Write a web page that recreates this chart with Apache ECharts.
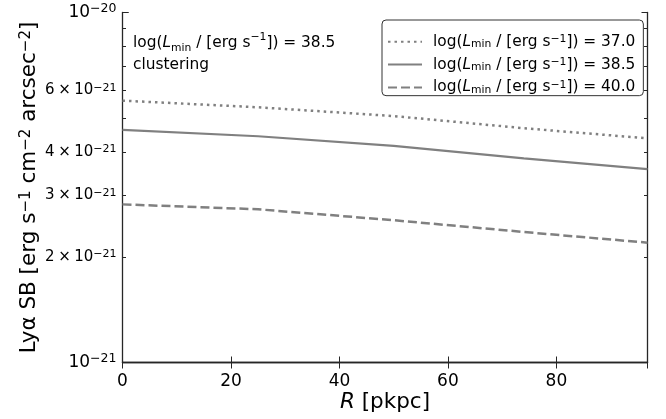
<!DOCTYPE html>
<html>
<head>
<meta charset="utf-8">
<script src="https://cdn.jsdelivr.net/npm/echarts@6/dist/echarts.min.js"></script>
<style>html,body{margin:0;padding:0;background:#fff;}#c{width:666px;height:419px;}#err{position:absolute;left:0;top:300px;font:10px monospace;color:red;}</style>
</head>
<body>
<div id="c"></div>
<div id="err"></div>
<script>
// ---- data ----
const radii = [0, 25, 50, 74, 96.8];                       // R [pkpc]
const sbLmin370 = [5.60e-21, 5.36e-21, 5.06e-21, 4.67e-21, 4.37e-21]; // dotted
const sbLmin385 = [4.62e-21, 4.43e-21, 4.16e-21, 3.83e-21, 3.57e-21]; // solid
const sbLmin400 = [2.83e-21, 2.74e-21, 2.55e-21, 2.36e-21, 2.20e-21]; // dashed
const seriesNames = ['37.0', '38.5', '40.0'];
const xTicks = [0, 20, 40, 60, 80];
const yMajorTicks = [1e-21, 1e-20];
const yMinorTicks = [2e-21, 3e-21, 4e-21, 5e-21, 6e-21, 7e-21, 8e-21, 9e-21];
const yTickLabels = [1e-21, 2e-21, 3e-21, 4e-21, 6e-21];
const annotation = ['38.5', 'clustering'];

const FONT = 'DejaVu Sans';
const GRAY = '#808080';
const AX = '#262626';

function pairs(xs, ys) { return xs.map((x, i) => [x, ys[i]]); }

const richBase = (fs) => ({
  n: {fontSize: fs, fontFamily: FONT, color: '#000'},
  i: {fontSize: fs, fontFamily: FONT, color: '#000', fontStyle: 'italic'},
  b: {fontSize: fs * 0.7, fontFamily: FONT, color: '#000', verticalAlign: 'bottom', padding: [fs*0.35, 0, 0, 0]},
  p: {fontSize: fs * 0.7, fontFamily: FONT, color: '#000', verticalAlign: 'top', padding: [0, 0, fs*0.3, 0]}
});
function lminText(v) {
  return '{n|log(}{i|L}{b|min}{n| / [erg s}{p|−1}{n|]) = ' + v + '}';
}
const yLabelRich = {
  M: {fontSize: 17, fontFamily: FONT, color: '#000'},
  S: {fontSize: 12.5, fontFamily: FONT, color: '#000', verticalAlign: 'top', padding: [0, 0, 7, 0]},
  m: {fontSize: 15, fontFamily: FONT, color: '#000'},
  x: {fontSize: 15, fontFamily: FONT, color: '#000', padding: [0, 3.5, 0, 3.5]},
  s: {fontSize: 11, fontFamily: FONT, color: '#000', verticalAlign: 'top', padding: [0, 0, 5, 0]}
};
function yLabel(v) {
  const e = Math.floor(Math.log10(v) + 1e-9);
  const mant = Math.round(v / Math.pow(10, e));
  if (mant === 1) return '{M|10}{S|−' + (-e) + '}';
  return '{m|' + mant + '}{x|×}{m|10}{s|−' + (-e) + '}';
}

try {
const chart = echarts.init(document.getElementById('c'), null, {renderer: 'canvas'});

const yCommon = {type: 'log', logBase: 10, min: 1e-21, max: 1e-20, splitLine: {show: false}, minorSplitLine: {show: false}};

const option = {
  animation: false,
  backgroundColor: '#fff',
  grid: {left: 122.5, right: 18.5, top: 12.5, bottom: 56.5, containLabel: false, outerBoundsMode: 'none'},
  title: {
    left: 128, top: 27,
    text: lminText(annotation[0]) + '\n{n|' + annotation[1] + '}',
    textStyle: {fontSize: 15.4, fontFamily: FONT, color: '#000', fontWeight: 'normal', lineHeight: 22, rich: richBase(15.4)}
  },
  legend: {
    orient: 'vertical', left: 382, top: 20,
    padding: [13.5, 8, 0, 5], itemGap: 6.5, itemWidth: 34, itemHeight: 14,
    borderColor: '#333', borderWidth: 1, borderRadius: 4, backgroundColor: '#fff',
    itemStyle: {opacity: 0},
    data: seriesNames.map(n => ({name: n})),
    formatter: (name) => lminText(name),
    textStyle: {fontSize: 15.4, fontFamily: FONT, color: '#000', padding: [0, 0, 0, 6], rich: richBase(15.4)}
  },
  xAxis: [{
    type: 'value', position: 'bottom', min: 0, max: 96.8, interval: 20,
    axisLine: {show: true, lineStyle: {color: AX, width: 1.3}},
    axisTick: {show: true, inside: true, length: 6, lineStyle: {color: AX, width: 1}},
    axisLabel: {fontSize: 17, fontFamily: FONT, color: '#000', margin: 11, showMaxLabel: false, showMinLabel: true,
      formatter: (v) => xTicks.indexOf(v) >= 0 ? String(v) : ''},
    splitLine: {show: false},
    name: '{i|R}{n| [pkpc]}', nameLocation: 'middle', nameGap: 29, nameMoveOverlap: false,
    nameTextStyle: {fontSize: 21.5, fontFamily: FONT, color: '#000',
      rich: {i: {fontSize: 21.5, fontFamily: FONT, fontStyle: 'italic', color: '#000'}, n: {fontSize: 21.5, fontFamily: FONT, color: '#000'}}}
  }, {
    type: 'value', position: 'top', min: 0, max: 96.8, interval: 20,
    axisLine: {show: true, lineStyle: {color: AX, width: 1.3}},
    axisTick: {show: true, inside: true, length: 6, lineStyle: {color: AX, width: 1}},
    axisLabel: {show: false}, splitLine: {show: false}
  }],
  yAxis: [Object.assign({}, yCommon, {
    position: 'left',
    axisLine: {show: true, lineStyle: {color: AX, width: 1.3}},
    axisTick: {show: true, inside: true, length: 6, lineStyle: {color: AX, width: 1}},
    axisLabel: {margin: 6, showMinLabel: true, showMaxLabel: true, fontSize: 17, fontFamily: FONT, color: '#000',
      formatter: yLabel, rich: yLabelRich},
    name: '{n|Lyα SB [erg s}{p|−1}{n| cm}{p|−2}{n| arcsec}{p|−2}{n|]}',
    nameLocation: 'middle', nameGap: 82, nameRotate: 90, nameMoveOverlap: false,
    nameTextStyle: {fontSize: 21.5, fontFamily: FONT, color: '#000', rich: richBase(21.5)}
  }), Object.assign({}, yCommon, {
    position: 'left',
    axisLine: {show: false},
    axisTick: {show: true, inside: true, length: 3.5, customValues: yMinorTicks, lineStyle: {color: AX, width: 1}},
    axisLabel: {margin: 6, customValues: yTickLabels, showMinLabel: true, fontSize: 15, fontFamily: FONT, color: '#000',
      formatter: yLabel, rich: yLabelRich}
  }), Object.assign({}, yCommon, {
    position: 'left',
    axisLine: {show: false},
    axisTick: {show: true, inside: true, length: 6, customValues: yMajorTicks, lineStyle: {color: AX, width: 1}},
    axisLabel: {show: false}
  }), Object.assign({}, yCommon, {
    position: 'right',
    axisLine: {show: true, lineStyle: {color: AX, width: 1.3}},
    axisTick: {show: true, inside: true, length: 6, lineStyle: {color: AX, width: 1}},
    axisLabel: {show: false}
  }), Object.assign({}, yCommon, {
    position: 'right',
    axisLine: {show: false},
    axisTick: {show: true, inside: true, length: 3.5, customValues: yMinorTicks, lineStyle: {color: AX, width: 1}},
    axisLabel: {show: false}
  })],
  series: [{
    name: seriesNames[0], type: 'line', xAxisIndex: 0, yAxisIndex: 0, symbol: 'none',
    data: pairs(radii, sbLmin370),
    lineStyle: {color: GRAY, width: 2.5, type: [2.5, 4], cap: 'butt'}, itemStyle: {color: GRAY}
  }, {
    name: seriesNames[1], type: 'line', xAxisIndex: 0, yAxisIndex: 0, symbol: 'none',
    data: pairs(radii, sbLmin385),
    lineStyle: {color: GRAY, width: 2.2, type: 'solid'}, itemStyle: {color: GRAY}
  }, {
    name: seriesNames[2], type: 'line', xAxisIndex: 0, yAxisIndex: 0, symbol: 'none',
    data: pairs(radii, sbLmin400),
    lineStyle: {color: GRAY, width: 2.5, type: [9, 4], cap: 'butt'}, itemStyle: {color: GRAY}
  }]
};
chart.setOption(option);
} catch (e) {
  document.getElementById('err').textContent = String(e && e.stack || e).slice(0, 600);
}
</script>
</body>
</html>
